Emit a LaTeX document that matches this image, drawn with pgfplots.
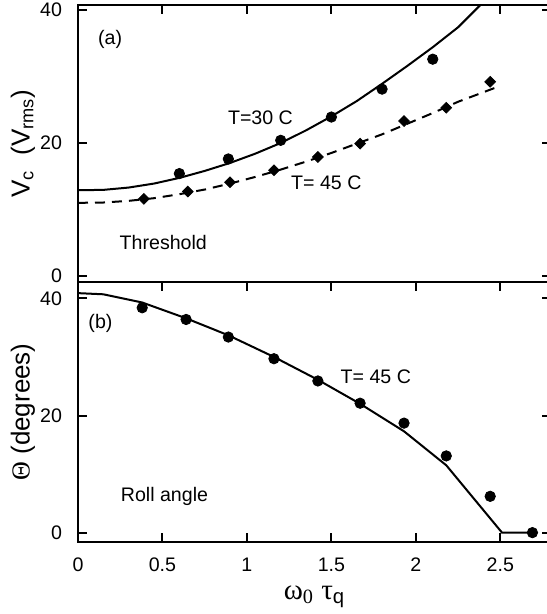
\documentclass[border=0pt]{standalone}
\usepackage{pgfplots}
\pgfplotsset{compat=1.18}
\usepackage{fontspec}
\setmainfont{Liberation Sans}
\newfontfamily\greekfont{Liberation Serif}

\pgfplotsset{
  panel/.style={
    scale only axis, width=236.5pt,
    xmin=0, xmax=2.8,
    axis line style={line width=1.3pt},
    every tick/.style={line width=1pt, black},
    major tick length=4.5pt,
    tick align=inside,
    xtick={0,0.5,1,1.5,2,2.5}, ytick={0,20,40},
    ytick pos=both, yticklabel pos=left,
    tick label style={font=\fontsize{9.8}{12}\selectfont},
    /pgf/number format/assume math mode=true,
    yticklabel style={xshift=-4.5pt},
    xticklabel style={yshift=-4.5pt},
    label style={font=\fontsize{13}{15}\selectfont},
    ylabel style={at={(axis description cs:-0.1163,0.5)}, anchor=center},
  },
}
\tikzset{txt/.style={font=\fontsize{9.8}{12}\selectfont, inner sep=0pt, anchor=center}}

\begin{document}
\begin{tikzpicture}
\useasboundingbox (-39pt,-36pt) rectangle (234pt,271pt);

% (b) roll angle
\begin{axis}[panel, at={(0pt,0pt)}, anchor=south west, height=130pt,
  ymin=-1.6, ymax=42.8,
  xtick pos=both, xticklabel pos=lower,
  xlabel={{\greekfont ω\textsubscript{0} τ}\textsubscript{q}},
  xlabel style={at={(axis description cs:0.5,-0.2115)}, anchor=center,
    font=\fontsize{14.5}{16}\selectfont},
  ylabel={{\greekfont Θ} (degrees)},
]
\addplot[black, line width=1pt] coordinates {
  (0,40.9) (0.15,40.7) (0.38,39.3) (0.64,36.6) (0.89,33.7) (1.16,30.0)
  (1.42,26.1) (1.67,22.0) (1.93,17.3) (2.18,11.5) (2.51,0) (2.69,0)
};
\addplot[only marks, mark=*, mark size=2.6pt, black] coordinates {
  (0.38,38.4) (0.64,36.4) (0.89,33.4) (1.16,29.7) (1.42,25.9)
  (1.67,22.1) (1.93,18.7) (2.18,13.1) (2.44,6.2) (2.69,0)
};
\node[txt] at (axis cs:0.133,35.8) {(b)};
\node[txt] at (axis cs:1.763,26.6) {T= 45 C};
\node[txt] at (axis cs:0.512,6.2) {Roll angle};
\end{axis}

% (a) threshold
\begin{axis}[panel, at={(0pt,130pt)}, anchor=south west, height=138.5pt,
  ymin=-0.9, ymax=40.75,
  xtick pos=upper, xticklabels={},
  ylabel={V\textsubscript{c}\ \ (V\textsubscript{rms})},
]
\addplot[black, line width=1pt] coordinates {
  (0,12.9) (0.15,12.95) (0.3,13.3) (0.45,13.9) (0.6,14.75) (0.75,15.8)
  (0.9,17.0) (1.05,18.4) (1.2,20.0) (1.35,21.9) (1.5,24.0) (1.65,26.3)
  (1.8,28.9) (1.95,31.6) (2.1,34.4) (2.25,37.4) (2.4,41.2)
};
\addplot[black, line width=1pt, dash pattern=on 5pt off 3.5pt] coordinates {
  (0,11.0) (0.15,11.05) (0.3,11.3) (0.45,11.7) (0.6,12.3) (0.75,13.0)
  (0.9,13.9) (1.05,14.9) (1.2,16.0) (1.35,17.2) (1.5,18.5) (1.65,19.9)
  (1.8,21.3) (1.95,22.9) (2.1,24.5) (2.25,26.2) (2.48,28.4)
};
\addplot[only marks, mark=*, mark size=2.6pt, black] coordinates {
  (0.60,15.4) (0.89,17.6) (1.20,20.4) (1.50,23.9) (1.80,28.1) (2.10,32.6)
};
\addplot[only marks, mark=square*, mark size=1.9pt, mark options={rotate=45}, black] coordinates {
  (0.39,11.6) (0.65,12.7) (0.90,14.1) (1.16,15.9) (1.42,17.9)
  (1.67,19.9) (1.93,23.3) (2.18,25.3) (2.44,29.2)
};
\node[txt] at (axis cs:0.19,35.6) {(a)};
\node[txt] at (axis cs:1.08,23.8) {T=30 C};
\node[txt] at (axis cs:1.47,14.0) {T= 45 C};
\node[txt] at (axis cs:0.505,5.1) {Threshold};
\end{axis}
\end{tikzpicture}
\end{document}
